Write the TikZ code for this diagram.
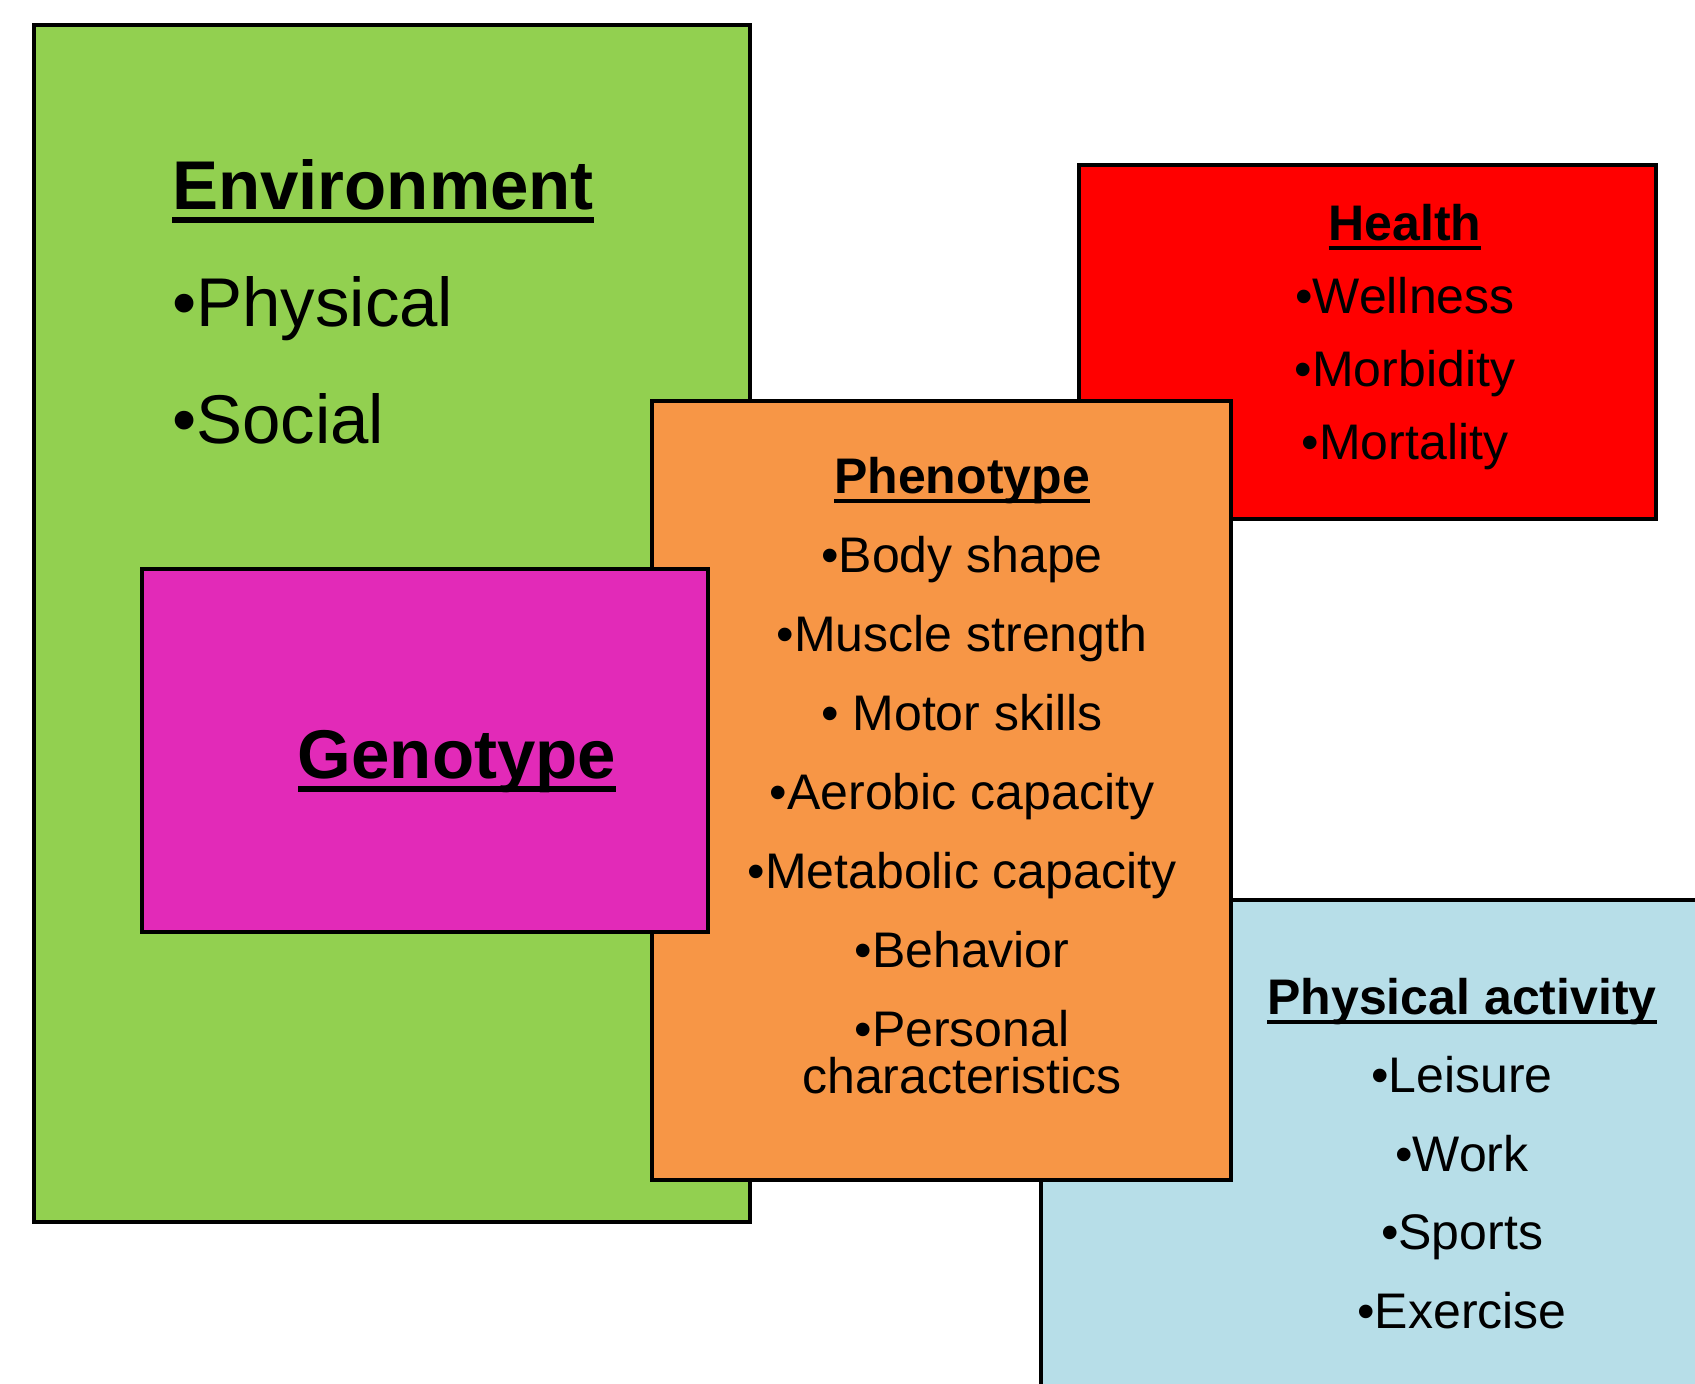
\documentclass[tikz,border=0pt]{standalone}
\usepackage{fontspec}
\setmainfont{Liberation Sans}

\definecolor{envgreen}{HTML}{92D050}
\definecolor{healthred}{HTML}{FF0000}
\definecolor{phenoorange}{HTML}{F79646}
\definecolor{genomagenta}{HTML}{E22AB8}
\definecolor{activblue}{HTML}{B7DEE8}

% bold heading with a thick underline
\newcommand\headline[1]{\setbox0\hbox{\bfseries #1}\rlap{\rule[-0.2em]{\wd0}{0.09em}}\box0}

\tikzset{
  box/.style={draw, rectangle, line width=4.5pt, inner sep=0pt},
  lbl/.style={inner sep=0pt, anchor=base, font=\fontsize{50}{48}\selectfont},
  biglbl/.style={lbl, font=\fontsize{69}{69}\selectfont}
}

\begin{document}
\begin{tikzpicture}[x=1pt, y=-1pt]
  \useasboundingbox (0,0) rectangle (1695,1384);

  % boxes, back to front
  \node[box, fill=envgreen, minimum width=716pt, minimum height=1197pt] (env) at (392,623.5) {};
  \node[box, fill=healthred, minimum width=577pt, minimum height=354pt] (health) at (1367.5,342) {};
  \node[box, fill=activblue, minimum width=842pt, minimum height=520pt] (activ) at (1462,1160) {};
  \node[box, fill=phenoorange, minimum width=579pt, minimum height=779pt] (pheno) at (941.5,790.5) {};
  \node[box, fill=genomagenta, minimum width=566pt, minimum height=363pt] (geno) at (425,750.5) {};

  % Environment
  \node[biglbl, anchor=base west] (envhead) at (172,209) {\headline{Environment}};
  \node[biglbl, anchor=base west] (env1) at (172,326) {•Physical};
  \node[biglbl, anchor=base west] (env2) at (172,443) {•Social};

  % Genotype
  \node[biglbl] (genohead) at (457,778) {\headline{Genotype}};

  % Health
  \node[lbl] (healthhead) at (1405,240) {\headline{Health}};
  \foreach \txt [count=\i] in {•Wellness, •Morbidity, •Mortality}
    \node[lbl] (health\i) at (1405,240+73*\i) {\txt};

  % Phenotype
  \node[lbl] (phenohead) at (962,493) {\headline{Phenotype}};
  \foreach \txt [count=\i] in {•Body shape, •Muscle strength, • Motor skills,
      •Aerobic capacity, •Metabolic capacity, •Behavior, •Personal}
    \node[lbl] (pheno\i) at (962,493+79*\i) {\txt};
  \node[lbl] (pheno8) at (962,1093) {characteristics};

  % Physical activity
  \node[lbl] (activhead) at (1462,1014) {\headline{Physical activity}};
  \foreach \txt [count=\i] in {•Leisure, •Work, •Sports, •Exercise}
    \node[lbl] (activ\i) at (1462,1014+78.5*\i) {\txt};
\end{tikzpicture}
\end{document}
